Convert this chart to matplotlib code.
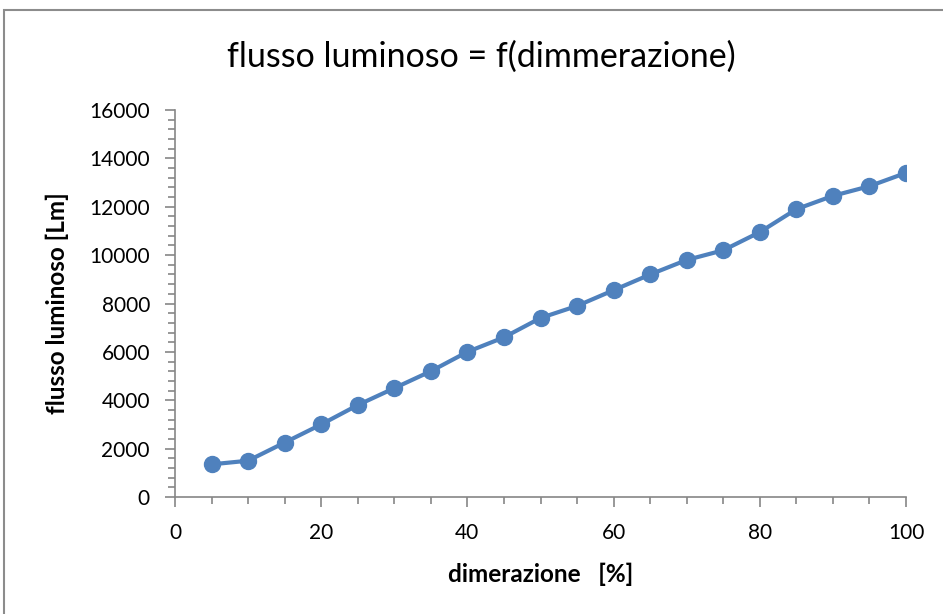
import matplotlib
matplotlib.use("Agg")
import matplotlib.pyplot as plt
from matplotlib.ticker import MultipleLocator
from matplotlib.patches import Rectangle

dimmerazione = [5, 10, 15, 20, 25, 30, 35, 40, 45, 50, 55, 60, 65, 70, 75, 80, 85, 90, 95, 100]
flusso = [1350, 1500, 2250, 3000, 3800, 4500, 5200, 6000, 6600, 7400, 7900, 8550, 9200, 9800,
          10200, 10950, 11900, 12450, 12850, 13400]

plt.rcParams['font.family'] = ['Lato', 'DejaVu Sans']

fig = plt.figure(figsize=(9.43, 6.14), dpi=100)
fig.patches.append(Rectangle((4/943, -0.1), 2, 1 - 10/614 + 0.1, transform=fig.transFigure,
                             fill=False, edgecolor='#8c8c8c', linewidth=1.5))
ax = fig.add_axes([175/943, 1-497/614, (906-175)/943, (497-110)/614])

ax.plot(dimmerazione, flusso, color='#4F81BD', linewidth=3.0, marker='o', markersize=11.5,
        markerfacecolor='#4F81BD', markeredgecolor='#4F81BD', solid_capstyle='round')

ax.set_xlim(0, 100)
ax.set_ylim(0, 16000)
ax.xaxis.set_major_locator(MultipleLocator(20))
ax.xaxis.set_minor_locator(MultipleLocator(5))
ax.yaxis.set_major_locator(MultipleLocator(2000))
ax.yaxis.set_minor_locator(MultipleLocator(400))

for s in ['top', 'right']:
    ax.spines[s].set_visible(False)
for s in ['left', 'bottom']:
    ax.spines[s].set_color('#868686')
    ax.spines[s].set_linewidth(1.2)

ax.tick_params(which='major', length=7, width=1.2, color='#868686', labelsize=15, direction='out')
ax.tick_params(which='minor', length=5, width=1.2, color='#868686', direction='out')
ax.tick_params(axis='x', pad=12)
ax.tick_params(axis='y', pad=11)

fig.text(481/943, 1 - 57/614, 'flusso luminoso = f(dimmerazione)', fontsize=24.5,
         ha='center', va='center')
ax.set_xlabel('dimerazione   [%]', fontsize=17.5, fontweight='bold', labelpad=14)
ax.set_ylabel('flusso luminoso [Lm]', fontsize=17.5, fontweight='bold', labelpad=15)

fig.savefig('out.png', dpi=100)
